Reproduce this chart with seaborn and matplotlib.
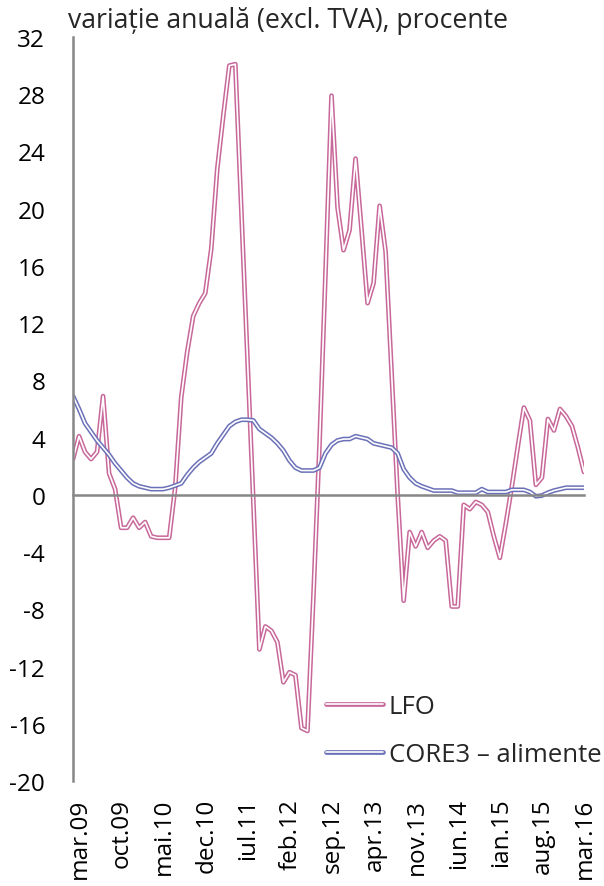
import matplotlib
matplotlib.use("Agg")
import matplotlib.pyplot as plt
import matplotlib.transforms as mtransforms
from matplotlib.lines import Line2D
import numpy as np
import pandas as pd
import seaborn as sns

# Monthly series, mar.09 .. apr.16 (annual change, %)
lfo = [2.5, 4.1, 3.0, 2.5, 3.0, 6.9, 1.5, 0.4, -2.3, -2.3,
       -1.6, -2.3, -1.9, -2.9, -3.0, -3.0, -3.0, 0.5, 6.8, 10.0,
       12.5, 13.4, 14.1, 17.2, 22.8, 26.5, 30.0, 30.1, 19.9, 9.7,
       -0.5, -10.8, -9.2, -9.5, -10.3, -13.1, -12.4, -12.6, -16.3, -16.5,
       -7.0, 3.5, 15.5, 27.9, 20.1, 17.1, 18.5, 23.5, 18.5, 13.4,
       14.8, 20.2, 17.0, 8.5, 0.0, -7.4, -2.6, -3.6, -2.6, -3.7,
       -3.2, -2.9, -3.2, -7.8, -7.8, -0.7, -1.0, -0.5, -0.7, -1.2,
       -2.9, -4.4, -2.0, 0.6, 3.4, 6.1, 5.2, 0.7, 1.2, 5.3,
       4.5, 6.0, 5.5, 4.8, 3.3, 1.6]

core3_food = [6.9, 6.0, 5.0, 4.4, 3.8, 3.3, 2.8, 2.2, 1.7, 1.2,
              0.8, 0.6, 0.5, 0.4, 0.4, 0.4, 0.5, 0.65, 0.8, 1.4,
              1.9, 2.3, 2.6, 2.9, 3.6, 4.2, 4.8, 5.1, 5.25, 5.25,
              5.2, 4.6, 4.3, 4.0, 3.6, 3.1, 2.4, 1.9, 1.7, 1.7,
              1.7, 1.9, 2.9, 3.5, 3.8, 3.9, 3.9, 4.1, 4.0, 3.9,
              3.6, 3.5, 3.4, 3.3, 2.9, 1.8, 1.2, 0.8, 0.6, 0.45,
              0.3, 0.3, 0.3, 0.3, 0.15, 0.15, 0.15, 0.15, 0.4, 0.2,
              0.2, 0.2, 0.2, 0.35, 0.35, 0.35, 0.2, -0.1, -0.05, 0.15,
              0.3, 0.4, 0.5, 0.5, 0.5, 0.5]

tick_labels = ["mar.09", "oct.09", "mai.10", "dec.10", "iul.11", "feb.12",
               "sep.12", "apr.13", "nov.13", "iun.14", "ian.15", "aug.15",
               "mar.16"]
y_ticks = list(range(-20, 33, 4))

series_names = ["LFO", "CORE3 – alimente"]
series_colors = ["#C8679A", "#6B71B8"]
title = "variație anuală (excl. TVA), procente"

# ---------------------------------------------------------------------------
sns.set_theme(style="white")
plt.rcParams["font.family"] = ["Open Sans", "DejaVu Sans"]
FS = 17.5
GREY = "#878787"

n = len(lfo)
df = pd.DataFrame({
    "t": np.concatenate([np.arange(n), np.arange(n)]),
    "value": lfo + core3_food,
    "series": [series_names[0]] * n + [series_names[1]] * n,
})

W, H = 604, 887
fig = plt.figure(figsize=(W / 100, H / 100), dpi=100)
ax = fig.add_axes([73 / W, 1 - 782 / H, (584 - 73) / W, (782 - 38) / H])

OUTER, INNER = 3.4, 1.2
for name, color in zip(series_names, series_colors):
    sub = df[df["series"] == name]
    sns.lineplot(data=sub, x="t", y="value", ax=ax, color=color, lw=OUTER,
                 estimator=None, sort=False, legend=False,
                 solid_joinstyle="round", solid_capstyle="round")
    sns.lineplot(data=sub, x="t", y="value", ax=ax, color="white", lw=INNER,
                 estimator=None, sort=False, legend=False,
                 solid_joinstyle="round", solid_capstyle="round")

ax.set_xlim(0, n - 1)
ax.set_ylim(-20, 32)
ax.set_xlabel("")
ax.set_ylabel("")

# horizontal axis crosses at zero, its labels sit at the bottom
label_pos = list(range(0, 7 * len(tick_labels), 7))
for side in ("top", "right"):
    ax.spines[side].set_visible(False)
ax.spines["bottom"].set_position(("data", 0))
for side in ("bottom", "left"):
    ax.spines[side].set_color(GREY)
    ax.spines[side].set_linewidth(1.8)
ax.set_xticks(label_pos)
ax.tick_params(axis="x", which="both", labelbottom=False, length=5,
               width=1.5, color=GREY, direction="out")
ax.set_yticks(y_ticks)
ax.set_yticklabels([str(v) for v in y_ticks])
ax.tick_params(axis="y", length=5, width=1.5, color=GREY, direction="out",
               pad=15, labelsize=FS, labelcolor="black")

secax = ax.secondary_xaxis("bottom")
secax.set_xticks(label_pos)
secax.set_xticklabels(tick_labels, rotation=90, fontsize=FS)
secax.tick_params(axis="x", length=0, pad=12, labelcolor="black")
secax.spines["bottom"].set_visible(False)
# nudge the rotated category labels a little to the right
nudge = mtransforms.ScaledTranslation(0.07, 0, fig.dpi_scale_trans)
for lbl in secax.get_xticklabels():
    lbl.set_transform(lbl.get_transform() + nudge)

fig.text(68 / W, 1 - 28 / H, title, ha="left", va="baseline", fontsize=19.2)

handles = []
for color in series_colors:
    handles.append((Line2D([], [], color=color, lw=OUTER, solid_capstyle="round"),
                    Line2D([], [], color="white", lw=INNER, solid_capstyle="round")))
ax.legend(handles, series_names, loc="upper left",
          bbox_to_anchor=(326 / W, 1 - 695 / H), bbox_transform=fig.transFigure,
          frameon=False, fontsize=18.5, handlelength=2.2, handletextpad=0.25,
          labelspacing=0.9, borderpad=0, borderaxespad=0)

fig.savefig("out.png", dpi=100)
